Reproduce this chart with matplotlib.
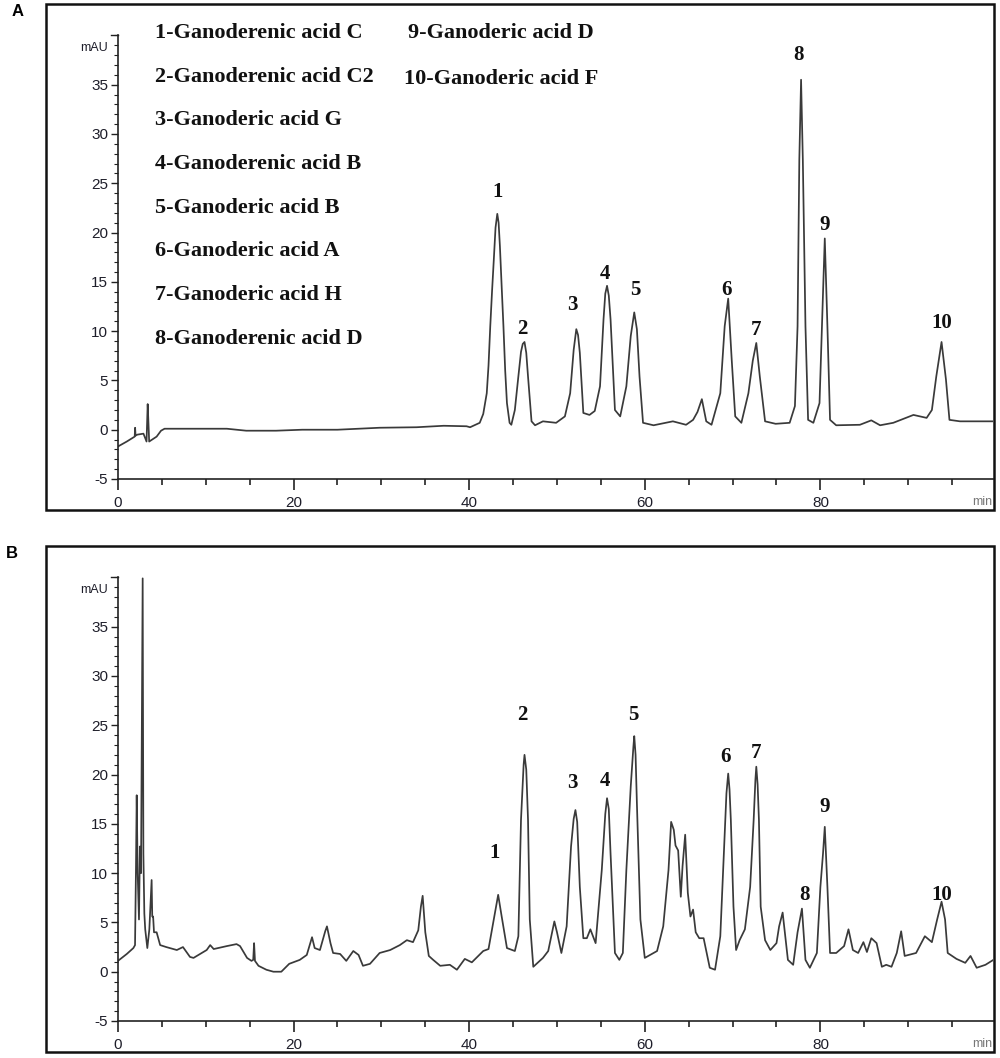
import numpy as np
import matplotlib
matplotlib.use("Agg")
import matplotlib.pyplot as plt
from matplotlib.patches import Rectangle
from matplotlib.ticker import MultipleLocator

plt.rcParams["axes.unicode_minus"] = False

# chromatogram A (standards): retention time (min) / absorbance (mAU)
time_a = [0, 1.0, 1.9, 1.95, 2.0, 2.2, 2.9, 3.25, 3.38, 3.45, 3.55, 4.4, 4.9, 5.3, 8, 12.4,
          14.6, 18, 21, 25, 29.8, 34, 37.1, 39.7, 40.1, 41.2, 41.6, 42.0, 42.2, 42.4, 42.6,
          42.8, 43.0, 43.2, 43.35, 43.5, 43.7, 43.9, 44.1, 44.3, 44.6, 44.8, 45.2, 45.6,
          45.9, 46.1, 46.3, 46.5, 46.7, 47.1, 47.5, 48.4, 49.9, 50.9, 51.5, 51.9, 52.2,
          52.4, 52.6, 53.0, 53.7, 54.3, 54.9, 55.3, 55.5, 55.7, 55.9, 56.1, 56.6, 57.2,
          57.9, 58.4, 58.8, 59.1, 59.4, 59.8, 61.0, 63.2, 64.7, 65.5, 66.0, 66.5, 67.0,
          67.6, 68.6, 69.1, 69.5, 69.9, 70.3, 71.0, 71.8, 72.3, 72.7, 73.1, 73.7, 74.9,
          76.5, 77.1, 77.4, 77.6, 77.8, 78.0, 78.3, 78.6, 79.2, 79.9, 80.3, 80.5, 80.8,
          81.1, 81.8, 84.5, 85.8, 86.8, 88.3, 90.6, 92.1, 92.7, 93.2, 93.8, 94.3, 94.7,
          95.9, 99.7]
signal_a = [-1.7, -1.2, -0.7, 0.2, -0.6, -0.5, -0.4, -1.2, 2.6, 1.1, -1.2, -0.7, -0.1, 0.1,
            0.1, 0.1, -0.1, -0.1, 0.0, 0.0, 0.2, 0.25, 0.4, 0.35, 0.25, 0.7, 1.6, 3.7, 6.5,
            10.5, 14.0, 17.2, 20.5, 21.9, 21.0, 18.6, 14.5, 10.5, 6.0, 2.7, 0.7, 0.5, 2.0,
            5.4, 7.9, 8.7, 8.9, 7.8, 5.4, 0.85, 0.45, 0.85, 0.7, 1.35, 3.7, 8.1, 10.2, 9.6,
            7.8, 1.7, 1.5, 1.9, 4.4, 11.2, 13.8, 14.6, 13.6, 11.2, 2.0, 1.35, 4.4, 9.5,
            11.9, 10.2, 5.4, 0.7, 0.45, 0.85, 0.5, 1.0, 1.8, 3.1, 0.85, 0.5, 3.7, 10.5,
            13.3, 7.1, 1.35, 0.7, 3.7, 7.0, 8.8, 5.4, 0.85, 0.6, 0.7, 2.4, 10.5, 27.4, 35.5,
            27.4, 10.5, 1.0, 0.7, 2.7, 13.9, 19.4, 10.5, 1.0, 0.45, 0.5, 0.95, 0.45, 0.7,
            1.5, 1.2, 2.0, 5.4, 8.9, 5.1, 1.0, 0.85, 0.85]

# chromatogram B (sample)
time_b = [0, 1.0, 1.75, 1.94, 2.05, 2.13, 2.24, 2.39, 2.5, 2.62, 2.73, 2.81, 2.89, 3.0, 3.1,
          3.34, 3.57, 3.72, 3.83, 3.9, 4.0, 4.1, 4.4, 4.8, 5.5, 6.7, 7.4, 8.2, 8.6, 10.1,
          10.5, 10.9, 12.4, 13.5, 13.9, 14.7, 15.2, 15.4, 15.5, 15.6, 16.0, 16.9, 17.7,
          18.6, 19.5, 20.7, 21.5, 22.1, 22.4, 23.0, 23.6, 23.8, 24.2, 24.5, 25.3, 26.0,
          26.8, 27.4, 27.9, 28.7, 29.8, 31.0, 32.1, 32.9, 33.6, 34.2, 34.5, 34.7, 35.0,
          35.4, 35.9, 36.7, 37.8, 38.6, 39.5, 40.3, 41.6, 42.2, 42.8, 43.3, 43.7, 44.3,
          45.2, 45.6, 45.9, 46.2, 46.3, 46.5, 46.7, 46.9, 47.3, 48.4, 49.0, 49.7, 50.0,
          50.5, 51.1, 51.6, 51.9, 52.1, 52.3, 52.6, 53.0, 53.4, 53.8, 54.4, 55.1, 55.5,
          55.7, 55.9, 56.1, 56.6, 57.1, 57.5, 57.9, 58.4, 58.7, 58.8, 58.95, 59.1, 59.5,
          60.0, 61.4, 62.1, 62.7, 63.0, 63.3, 63.5, 63.8, 64.1, 64.3, 64.6, 64.9, 65.2,
          65.5, 65.8, 66.2, 66.7, 67.4, 68.0, 68.6, 69.0, 69.3, 69.5, 69.65, 69.8, 70.1,
          70.4, 70.8, 71.4, 72.0, 72.4, 72.6, 72.7, 72.85, 73.0, 73.2, 73.7, 74.3, 75.0,
          75.3, 75.7, 76.0, 76.3, 76.9, 77.4, 77.9, 78.3, 78.8, 79.6, 80.0, 80.3, 80.5,
          80.8, 81.1, 81.8, 82.7, 83.2, 83.7, 84.3, 84.9, 85.3, 85.8, 86.4, 87.0, 87.5,
          88.1, 88.7, 89.2, 89.6, 90.9, 91.9, 92.7, 93.3, 93.8, 94.2, 94.5, 95.5, 96.5,
          97.1, 97.8, 98.8, 99.7]
signal_b = [1.1, 1.8, 2.4, 2.7, 10.7, 17.9, 10.0, 5.3, 12.7, 10.0, 27.6, 39.9, 12.0, 5.9, 4.3,
            2.4, 4.3, 7.3, 9.3, 5.6, 5.6, 4.0, 4.0, 2.7, 2.5, 2.2, 2.5, 1.5, 1.4, 2.2,
            2.7, 2.3, 2.6, 2.8, 2.6, 1.4, 1.1, 1.2, 2.9, 1.1, 0.6, 0.2, 0.0,
            0.0, 0.8, 1.2, 1.7, 3.5, 2.4, 2.2, 4.1, 4.6, 2.9, 1.9, 1.8, 1.1,
            2.1, 1.7, 0.6, 0.8, 1.9, 2.2, 2.7, 3.2, 3.0, 4.2, 6.6, 7.7, 4.0,
            1.6, 1.2, 0.6, 0.7, 0.2, 1.3, 0.95, 2.1, 2.3, 5.3, 7.8, 5.6, 2.4,
            2.1, 3.6, 15.4, 21.0, 22.0, 20.5, 15.4, 5.3, 0.5, 1.4, 2.1, 5.1, 4.0,
            1.9, 4.6, 12.7, 15.5, 16.4, 15.2, 8.6, 3.4, 3.4, 4.3, 2.9, 10.3, 16.0,
            17.6, 16.5, 12.0, 1.9, 1.2, 1.9, 10.3, 18.8, 22.8, 23.9, 22.0, 17.1, 5.3,
            1.4, 2.1, 4.6, 10.3, 15.2, 14.4, 12.8, 12.3, 7.6, 10.7, 13.9, 8.0, 5.6,
            6.3, 4.0, 3.4, 3.4, 0.4, 0.2, 3.6, 12.0, 18.1, 20.1, 18.5, 15.4, 6.6,
            2.2, 3.2, 4.3, 8.6, 15.4, 19.5, 20.8, 19.0, 15.4, 6.6, 3.2, 2.2, 2.9,
            4.6, 6.0, 3.6, 1.2, 0.7, 4.0, 6.4, 1.2, 0.4, 1.9, 8.6, 12.0, 14.7,
            8.6, 1.9, 1.9, 2.6, 4.3, 2.2, 1.9, 3.0, 2.0, 3.4, 2.9, 0.5, 0.7,
            0.5, 1.9, 4.1, 1.6, 1.9, 3.6, 3.0, 5.3, 7.1, 5.3, 1.9, 1.3, 0.9,
            1.6, 0.4, 0.7, 1.2]

peak_labels = ["1", "2", "3", "4", "5", "6", "7", "8", "9", "10"]
label_t_a = [43.2, 46.1, 51.7, 55.5, 58.9, 69.3, 72.7, 77.5, 80.5, 93.8]
label_y_a = [24.1, 10.2, 12.7, 15.8, 14.2, 14.2, 10.1, 38.0, 20.8, 10.8]
label_t_b = [42.9, 46.0, 51.7, 55.5, 58.7, 69.2, 72.7, 78.2, 80.5, 93.8]
label_y_b = [12.0, 26.0, 19.1, 19.3, 26.0, 21.8, 22.2, 7.8, 16.7, 7.8]

compounds = ["1-Ganoderenic acid C", "2-Ganoderenic acid C2", "3-Ganoderic acid G",
             "4-Ganoderenic acid B", "5-Ganoderic acid B", "6-Ganoderic acid A",
             "7-Ganoderic acid H", "8-Ganoderenic acid D", "9-Ganoderic acid D",
             "10-Ganoderic acid F"]

W, H = 1000, 1058
fig = plt.figure(figsize=(W / 100, H / 100), dpi=100)

serif = ["Liberation Serif", "DejaVu Serif"]
sans = ["Liberation Sans", "DejaVu Sans"]
tick_col = "#1e1e2a"


def fx(px):
    return px / W


def fy(py):
    return 1 - py / H


def draw_panel(top_px, t, s, lab_t, lab_y, letter):
    # outer frame of the panel
    fig.patches.append(Rectangle((fx(46), fy(top_px + 506)), fx(948), 506 / H,
                                 transform=fig.transFigure, fill=False,
                                 edgecolor="#111111", linewidth=1.8))
    fig.text(fx(12 if letter == "B" else 18), fy(top_px + 8), letter, family=sans,
             fontsize=12, fontweight="bold", ha="center", va="center")
    ax = fig.add_axes([fx(118), fy(top_px + 475), fx(875), 443.6 / H])
    ax.plot(t, s, color="#3a3a3a", linewidth=1.25)
    ax.set_xlim(0, 99.66)
    ax.set_ylim(-5, 40)
    ax.spines["top"].set_visible(False)
    ax.spines["right"].set_visible(False)
    for sp in ("left", "bottom"):
        ax.spines[sp].set_linewidth(1.2)
        ax.spines[sp].set_color("#222222")
    ax.set_xticks([0, 20, 40, 60, 80])
    ax.xaxis.set_minor_locator(MultipleLocator(5))
    ax.set_yticks([-5, 0, 5, 10, 15, 20, 25, 30, 35])
    ax.yaxis.set_minor_locator(MultipleLocator(1))
    ax.tick_params(axis="x", which="major", length=8, width=1.2, pad=4,
                   labelsize=11, labelcolor=tick_col, color="#222222")
    ax.tick_params(axis="x", which="minor", length=4, width=1.2, color="#222222")
    ax.tick_params(axis="y", which="major", length=5, width=1.0, pad=2,
                   labelsize=11, labelcolor=tick_col, color="#222222")
    ax.tick_params(axis="y", which="minor", length=3, width=0.8, color="#222222")
    for lbl in ax.get_xticklabels() + ax.get_yticklabels():
        lbl.set_family(sans)
    ax.plot([0, -0.8], [40, 40], color="#222222", linewidth=1.0, clip_on=False)
    ax.text(-1.2, 38.7, "mAU", family=sans, fontsize=9, color=tick_col,
            ha="right", va="center")
    ax.text(99.6, -7.3, "min", family=sans, fontsize=9, color="#777777",
            ha="right", va="center")
    for name, x, y in zip(peak_labels, lab_t, lab_y):
        ax.text(x, y, name, family=serif, fontsize=15, fontweight="bold",
                ha="center", va="center", color="#111111")
    return ax


ax_a = draw_panel(4, time_a, signal_a, label_t_a, label_y_a, "A")
ax_b = draw_panel(546, time_b, signal_b, label_t_b, label_y_b, "B")

# compound list in panel A
for i, name in enumerate(compounds[:8]):
    fig.text(fx(155), fy(33 + 43.7 * i), name, family=serif, fontsize=16,
             fontweight="bold", ha="left", va="center", color="#111111")
for i, name in enumerate(compounds[8:]):
    fig.text(fx(408 - 4 * i), fy(33 + 46 * i), name, family=serif, fontsize=16,
             fontweight="bold", ha="left", va="center", color="#111111")

fig.savefig("out.png", dpi=100)
